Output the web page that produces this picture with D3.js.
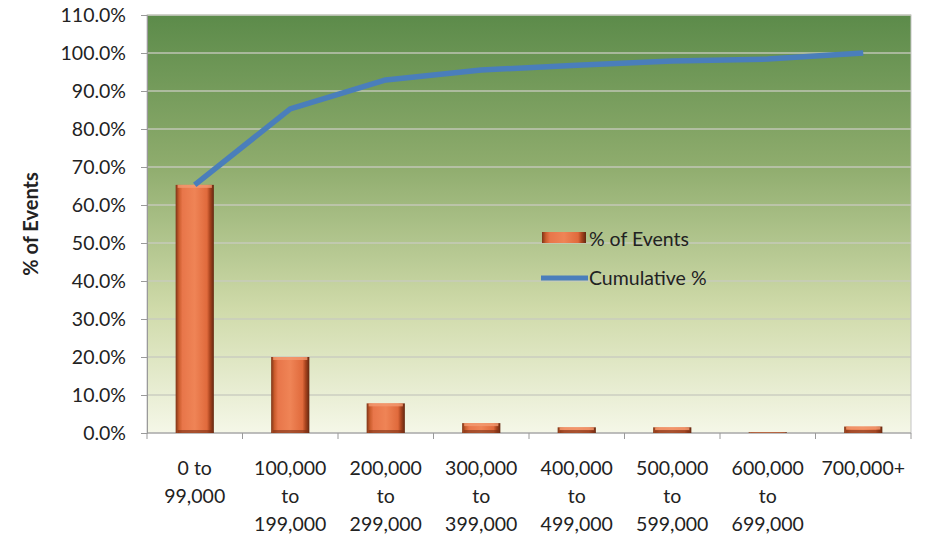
<!DOCTYPE html>
<html>
<head>
<meta charset="utf-8">
<script src="https://cdnjs.cloudflare.com/ajax/libs/d3/7.8.5/d3.min.js"></script>
<style>
  html, body { margin: 0; padding: 0; background: #fff; }
  svg { display: block; font-family: Lato, "Open Sans", sans-serif; }
</style>
</head>
<body>
<svg id="chart" width="925" height="538"></svg>
<script>
// Event-size buckets
const categories = [
  ["0 to", "99,000"],
  ["100,000", "to", "199,000"],
  ["200,000", "to", "299,000"],
  ["300,000", "to", "399,000"],
  ["400,000", "to", "499,000"],
  ["500,000", "to", "599,000"],
  ["600,000", "to", "699,000"],
  ["700,000+"]
];
// Share of events per bucket (%)
const pctEvents = [65.3, 20.0, 7.8, 2.6, 1.5, 1.5, 0.2, 1.7];
// Running total (%)
const cumulativePct = [65.3, 85.3, 92.9, 95.5, 96.8, 97.9, 98.4, 100.0];
const yTicks = [0, 10, 20, 30, 40, 50, 60, 70, 80, 90, 100, 110];

const FONT = 19.5;
const svg = d3.select("#chart");
const m = { left: 147, right: 911, top: 15, bottom: 433 };

const x = d3.scaleBand()
  .domain(d3.range(categories.length))
  .range([m.left, m.right])
  .paddingInner(0.6).paddingOuter(0.3);
const xOuter = d3.scaleBand()
  .domain(d3.range(categories.length))
  .range([m.left, m.right]);
const y = d3.scaleLinear().domain([0, 110]).range([m.bottom, m.top]);

const defs = svg.append("defs");
const bg = defs.append("linearGradient").attr("id", "bg")
  .attr("x1", 0).attr("y1", 0).attr("x2", 0).attr("y2", 1);
bg.append("stop").attr("offset", "0%").attr("stop-color", "#5c8b4a");
bg.append("stop").attr("offset", "35%").attr("stop-color", "#8dab6c");
bg.append("stop").attr("offset", "70%").attr("stop-color", "#cfdaa9");
bg.append("stop").attr("offset", "100%").attr("stop-color", "#f5f7e8");

const barGrad = defs.append("linearGradient").attr("id", "barFill")
  .attr("x1", 0).attr("y1", 0).attr("x2", 1).attr("y2", 0);
[["0%", "#7e3416"], ["9%", "#cc5d2d"], ["18%", "#e8764a"], ["50%", "#ef8456"],
 ["82%", "#e06a3c"], ["90%", "#a9441e"], ["100%", "#622710"]]
  .forEach(([o, c]) => barGrad.append("stop").attr("offset", o).attr("stop-color", c));

// Plot background
svg.append("rect")
  .attr("x", m.left).attr("y", m.top)
  .attr("width", m.right - m.left).attr("height", m.bottom - m.top)
  .attr("fill", "url(#bg)")
  .attr("stroke", "#c4c4c4").attr("stroke-width", 1);

// Gridlines
svg.append("g").selectAll("line").data(yTicks.filter(t => t > 0))
  .join("line")
  .attr("x1", m.left).attr("x2", m.right)
  .attr("y1", d => y(d)).attr("y2", d => y(d))
  .attr("stroke", "#c9cbbf").attr("stroke-width", 1.3).attr("opacity", 0.9);

// Y axis
const yAxis = svg.append("g")
  .attr("transform", `translate(${m.left},0)`)
  .call(d3.axisLeft(y).tickValues(yTicks).tickSize(6).tickPadding(15)
    .tickFormat(d => d.toFixed(1) + "%"));
yAxis.select(".domain").attr("stroke", "#9a9a9a");
yAxis.selectAll(".tick line").attr("stroke", "#9a9a9a");
yAxis.selectAll("text").attr("font-size", FONT).attr("fill", "#222")
  .attr("font-family", "Lato, sans-serif");

// X axis
const xAxis = svg.append("g")
  .attr("transform", `translate(0,${m.bottom})`);
xAxis.append("line").attr("x1", m.left).attr("x2", m.right)
  .attr("stroke", "#9a9a9a");
xAxis.selectAll("line.tk").data(d3.range(categories.length + 1))
  .join("line").attr("class", "tk")
  .attr("x1", i => i < categories.length ? xOuter(i) : m.right)
  .attr("x2", i => i < categories.length ? xOuter(i) : m.right)
  .attr("y1", 0).attr("y2", 6).attr("stroke", "#9a9a9a");

const xl = svg.append("g").selectAll("text").data(categories).join("text")
  .attr("text-anchor", "middle")
  .attr("font-size", FONT).attr("fill", "#222")
  .attr("x", (d, i) => xOuter(i) + xOuter.bandwidth() / 2)
  .attr("y", 475);
xl.selectAll("tspan").data(d => d).join("tspan")
  .attr("x", function () { return d3.select(this.parentNode).attr("x"); })
  .attr("dy", (d, i) => i === 0 ? 0 : 28)
  .text(d => d);

// Bars
const bars = svg.append("g").selectAll("g").data(pctEvents).join("g");
bars.append("rect")
  .attr("x", (d, i) => x(i)).attr("width", x.bandwidth())
  .attr("y", d => y(d)).attr("height", d => y(0) - y(d))
  .attr("fill", "url(#barFill)");
bars.append("rect")
  .attr("x", (d, i) => x(i) + 2).attr("width", x.bandwidth() - 4)
  .attr("y", d => y(d)).attr("height", d => Math.min(3, y(0) - y(d)))
  .attr("fill", "#f39a70").attr("opacity", 0.8);
bars.append("rect")
  .attr("x", (d, i) => x(i) + 2).attr("width", x.bandwidth() - 4)
  .attr("y", d => Math.max(y(d), y(0) - 3)).attr("height", d => Math.min(3, y(0) - y(d)))
  .attr("fill", "#7a3015").attr("opacity", 0.6);

// Cumulative line
const line = d3.line()
  .x((d, i) => xOuter(i) + xOuter.bandwidth() / 2)
  .y(d => y(d));
svg.append("path").datum(cumulativePct)
  .attr("d", line).attr("fill", "none")
  .attr("stroke", "#4a7ebb").attr("stroke-width", 5.5)
  .attr("stroke-linejoin", "round");

// Legend
const lg = svg.append("g");
lg.append("rect").attr("x", 542).attr("y", 232).attr("width", 44).attr("height", 11)
  .attr("fill", "url(#barFill)");
lg.append("text").attr("x", 589).attr("y", 246).attr("font-size", FONT)
  .attr("fill", "#222").text("% of Events");
lg.append("line").attr("x1", 541).attr("x2", 588).attr("y1", 278).attr("y2", 278)
  .attr("stroke", "#4a7ebb").attr("stroke-width", 5);
lg.append("text").attr("x", 589).attr("y", 285).attr("font-size", FONT)
  .attr("fill", "#222").text("Cumulative %");

// Y axis title
svg.append("text")
  .attr("transform", "translate(38,224) rotate(-90)")
  .attr("text-anchor", "middle").attr("font-size", 20).attr("font-weight", "bold")
  .attr("fill", "#222").text("% of Events");
</script>
</body>
</html>
